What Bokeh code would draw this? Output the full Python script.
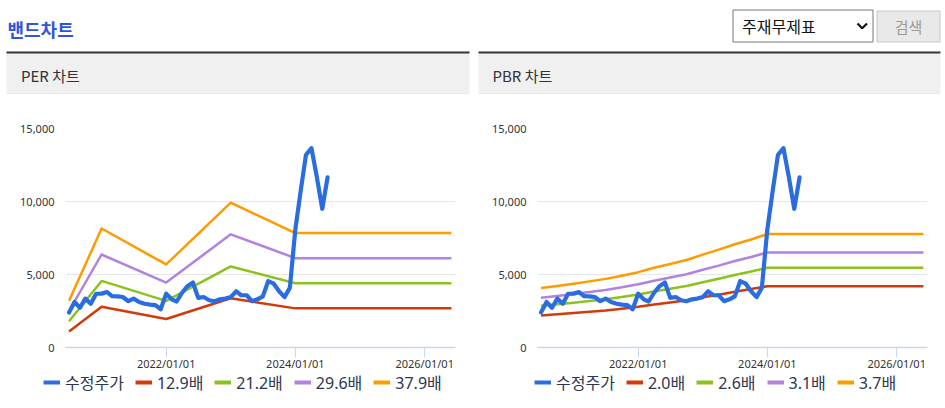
from datetime import datetime
from bokeh.plotting import figure
from bokeh.models import (Range1d, FixedTicker, NumeralTickFormatter,
                          DatetimeTickFormatter, Legend, LegendItem)
from bokeh.layouts import column, row
from bokeh.embed import file_html
from bokeh.resources import INLINE
from bokeh.core.properties import value

# ---------------- data ----------------
price_dates = [
    "2020-07-01", "2020-08-01", "2020-09-01", "2020-10-01", "2020-11-01", "2020-12-01",
    "2021-01-01", "2021-02-01", "2021-03-01", "2021-04-01", "2021-05-01", "2021-06-01",
    "2021-07-01", "2021-08-01", "2021-09-01", "2021-10-01", "2021-11-01", "2021-12-01",
    "2022-01-01", "2022-02-01", "2022-03-01", "2022-04-01", "2022-05-01", "2022-06-01",
    "2022-07-01", "2022-08-01", "2022-09-01", "2022-10-01", "2022-11-01", "2022-12-01",
    "2023-01-01", "2023-02-01", "2023-03-01", "2023-04-01", "2023-05-01", "2023-06-01",
    "2023-07-01", "2023-08-01", "2023-09-01", "2023-10-01", "2023-11-01", "2023-12-01",
    "2024-01-01", "2024-02-01", "2024-03-01", "2024-04-01", "2024-05-01", "2024-06-01",
    "2024-07-01",
]
price = [
    2400, 3120, 2720, 3350, 3000, 3680,
    3690, 3800, 3520, 3500, 3460, 3170,
    3350, 3120, 3000, 2940, 2900, 2620,
    3690, 3300, 3150, 3750, 4200, 4450,
    3400, 3460, 3240, 3170, 3300, 3350,
    3450, 3850, 3580, 3580, 3170, 3300,
    3500, 4550, 4370, 3850, 3450, 4100,
    8100, 10800, 13200, 13650, 11700, 9500,
    11650,
]

per_dates = ["2020-07-01", "2021-01-01", "2022-01-01", "2023-01-01", "2024-01-01", "2026-06-01"]
per_labels = ["12.9배", "21.2배", "29.6배", "37.9배"]
per_129 = [1090, 2790, 1950, 3370, 2680, 2680]
per_212 = [1800, 4560, 3190, 5550, 4400, 4400]
per_296 = [2500, 6370, 4450, 7750, 6120, 6120]
per_379 = [3200, 8150, 5690, 9920, 7840, 7840]

pbr_dates = ["2020-07-01", "2020-10-01", "2021-01-01", "2021-04-01", "2021-07-01",
             "2021-10-01", "2022-01-01", "2022-04-01", "2022-07-01", "2022-10-01",
             "2023-01-01", "2023-04-01", "2023-07-01", "2023-10-01", "2024-01-01",
             "2026-06-01"]
pbr_labels = ["2.0배", "2.6배", "3.1배", "3.7배"]
pbr_20 = [2200, 2280, 2360, 2450, 2540, 2660, 2790, 2950, 3090, 3240, 3440, 3620, 3820, 4000, 4200, 4200]
pbr_26 = [2860, 2960, 3070, 3190, 3300, 3460, 3630, 3840, 4020, 4210, 4470, 4710, 4970, 5200, 5460, 5460]
pbr_31 = [3410, 3530, 3660, 3800, 3940, 4120, 4330, 4570, 4790, 5020, 5330, 5610, 5920, 6200, 6510, 6510]
pbr_37 = [4070, 4220, 4370, 4530, 4700, 4920, 5160, 5460, 5720, 5990, 6360, 6700, 7070, 7400, 7770, 7770]

price_label = "수정주가"
y_ticks = [0, 5000, 10000, 15000]
x_tick_dates = ["2022-01-01", "2024-01-01", "2026-01-01"]
x_start, x_end = "2020-06-11", "2026-06-24"

# ---------------- styles ----------------
BLUE = "#2a6de0"
BAND_COLORS = ["#d23a0a", "#8bc21c", "#b182e0", "#ff9a00"]
FONT = "Noto Sans CJK KR"
TICK_FONT = "Noto Sans"
LEGEND_FONT = "Noto Sans, Noto Sans CJK KR"
TICK_COLOR = "#333333"
LEGEND_COLOR = "#2e3550"
AXIS_COLOR = "#ccd6eb"


def dt(s):
    return datetime.strptime(s, "%Y-%m-%d")


def ms(s):
    return (dt(s) - datetime(1970, 1, 1)).total_seconds() * 1000.0


def make_chart(width, b_left, b_right, band_dates, bands):
    p = figure(width=width, height=279, x_axis_type="datetime",
               x_range=Range1d(dt(x_start), dt(x_end)), y_range=Range1d(0, 15000),
               toolbar_location=None, output_backend="svg",
               min_border_left=b_left, min_border_right=b_right,
               min_border_top=34, min_border_bottom=24)
    p.outline_line_color = None
    p.background_fill_color = "white"
    p.border_fill_color = "white"
    p.xgrid.visible = False
    p.ygrid.ticker = FixedTicker(ticks=y_ticks)
    p.ygrid.grid_line_color = "#e6e6e6"
    p.ygrid.grid_line_width = 1

    yax = p.yaxis[0]
    yax.ticker = FixedTicker(ticks=y_ticks)
    yax.formatter = NumeralTickFormatter(format="0,0")
    yax.axis_line_color = None
    yax.major_tick_line_color = None
    yax.minor_tick_line_color = None
    yax.major_tick_out = 0
    yax.major_tick_in = 0
    yax.major_label_standoff = 11
    yax.major_label_text_font = TICK_FONT
    yax.major_label_text_font_size = "11px"
    yax.major_label_text_color = TICK_COLOR

    xax = p.xaxis[0]
    xax.ticker = FixedTicker(ticks=[ms(d) for d in x_tick_dates])
    fmt = "%Y/%m/%d"
    xax.formatter = DatetimeTickFormatter(years=fmt, months=fmt, days=fmt, hours=fmt)
    xax.axis_line_color = AXIS_COLOR
    xax.axis_line_width = 1.5
    xax.major_tick_line_color = AXIS_COLOR
    xax.major_tick_out = 10
    xax.major_tick_in = 0
    xax.minor_tick_line_color = None
    xax.major_label_standoff = -2
    xax.major_label_text_font = TICK_FONT
    xax.major_label_text_font_size = "11px"
    xax.major_label_text_color = TICK_COLOR

    bx = [dt(d) for d in band_dates]
    for vals, col in zip(bands, BAND_COLORS):
        p.line(bx, vals, line_color=col, line_width=2.5, line_join="round")
    p.line([dt(d) for d in price_dates], price, line_color=BLUE, line_width=4.2,
           line_join="round", line_cap="round")
    return p


def make_legend(width, band_dates, bands, labels, legend_x):
    # legend strip: the same series, drawn out of view, only their legend shows
    lf = figure(width=width, height=35, x_axis_type="datetime",
                x_range=Range1d(dt(x_start), dt(x_end)), y_range=Range1d(-30000, -15000),
                toolbar_location=None, output_backend="svg", min_border=0,
                x_axis_location=None, y_axis_location=None, margin=(-6, 0, 0, 0))
    lf.outline_line_color = None
    lf.grid.visible = False
    lf.background_fill_alpha = 0
    lf.border_fill_alpha = 0
    rp = lf.line([dt(d) for d in price_dates], price, line_color=BLUE, line_width=4)
    items = [LegendItem(label=price_label, renderers=[rp])]
    bx = [dt(d) for d in band_dates]
    for vals, col, lab in zip(bands, BAND_COLORS, labels):
        r = lf.line(bx, vals, line_color=col, line_width=4)
        items.append(LegendItem(label=lab, renderers=[r]))
    leg = Legend(items=items, orientation="horizontal", location=(legend_x, 8),
                 label_text_font=LEGEND_FONT, label_text_font_size="16px",
                 label_text_color=LEGEND_COLOR, glyph_width=17, glyph_height=16,
                 label_height=16, label_standoff=5, spacing=11, padding=0, margin=0,
                 border_line_color=None, background_fill_alpha=0)
    lf.add_layout(leg, "center")
    return lf


per_bands = [per_129, per_212, per_296, per_379]
pbr_bands = [pbr_20, pbr_26, pbr_31, pbr_37]
p_left = make_chart(474, 65, 19, per_dates, per_bands)
p_right = make_chart(471, 63, 18, pbr_dates, pbr_bands)
l_left = make_legend(474, per_dates, per_bands, per_labels, 43)
l_right = make_legend(471, pbr_dates, pbr_bands, pbr_labels, 60)

# ---------------- header (title, panel heads, select box) ----------------
hdr = figure(width=945, height=94, x_range=Range1d(0, 945), y_range=Range1d(94, 0),
             toolbar_location=None, output_backend="svg", min_border=0,
             x_axis_location=None, y_axis_location=None)
hdr.outline_line_color = None
hdr.grid.visible = False
hdr.quad(left=[6, 478], right=[469, 940], top=[53, 53], bottom=[93, 93],
         fill_color="#f0f0f0", line_color=None)
hdr.quad(left=[6, 478], right=[469, 940], top=[51, 51], bottom=[53, 53],
         fill_color="#333333", line_color=None)
hdr.quad(left=[6, 478], right=[469, 940], top=[93, 93], bottom=[94, 94],
         fill_color="#dddddd", line_color=None)
hdr.quad(left=[732.5], right=[872.5], top=[9.5], bottom=[41.5],
         fill_color="white", line_color="#767676", line_width=1)
hdr.quad(left=[876.5], right=[939.5], top=[10.5], bottom=[41.5],
         fill_color="#e9e9e9", line_color="#c8c8c8", line_width=1)
hdr.line(x=[857, 861.7, 866.5], y=[23, 27.7, 23], line_color="#111111", line_width=2.2)

hdr.text(x=[7], y=[28], text=["밴드차트"], text_font=value(FONT), text_font_size="18px",
         text_font_style="bold", text_color="#2f56d8", text_baseline="middle")
hdr.text(x=[20.5, 492], y=[75, 75], text=["PER 차트", "PBR 차트"], text_font=value(FONT),
         text_font_size="15px", text_color="#333333", text_baseline="middle")
hdr.text(x=[741.5], y=[25], text=["주재무제표"], text_font=value(FONT),
         text_font_size="16px", text_color="#111111", text_baseline="middle")
hdr.text(x=[908], y=[25.5], text=["검색"], text_font=value(FONT),
         text_font_size="15px", text_color="#9a9a9a", text_baseline="middle",
         text_align="center")

# ---------------- footer line ----------------
ftr = figure(width=945, height=6, x_range=Range1d(0, 945), y_range=Range1d(6, 0),
             toolbar_location=None, output_backend="svg", min_border=0,
             x_axis_location=None, y_axis_location=None)
ftr.outline_line_color = None
ftr.grid.visible = False
ftr.quad(left=[6, 478], right=[469, 940], top=[2, 2], bottom=[4, 4],
         fill_color="#c8c8c8", line_color=None)

layout = column(hdr, row(p_left, p_right, spacing=0), row(l_left, l_right, spacing=0),
                ftr, spacing=0)
with open("out.html", "w") as f:
    f.write(file_html(layout, INLINE))
